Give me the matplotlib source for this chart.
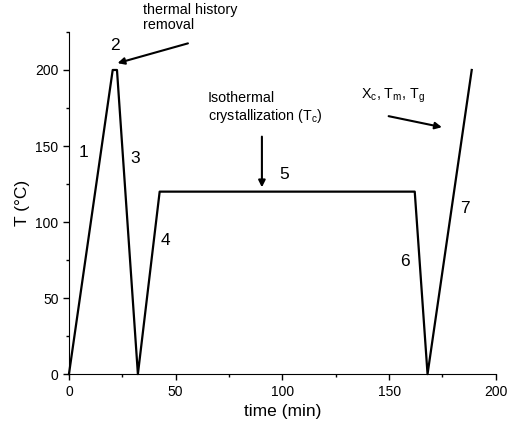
import matplotlib.pyplot as plt
from matplotlib.ticker import MultipleLocator

plt.rcParams['font.family'] = ['Liberation Sans', 'DejaVu Sans']
plt.rcParams['mathtext.fontset'] = 'custom'
plt.rcParams['mathtext.rm'] = 'Liberation Sans'

# temperature program
time = [0, 20.5, 22.5, 32.3, 42.5, 162, 168, 188.7]
temp = [0, 200, 200, 0, 120, 120, 0, 200]

step_labels = ['1', '2', '3', '4', '5', '6', '7']
step_x = [7.0, 21.5, 30.9, 45.0, 100.7, 157.4, 185.5]
step_y = [146, 216, 142, 88, 131, 74, 109]

fig = plt.figure(figsize=(5.07, 4.32), dpi=100)
ax = fig.add_axes([0.136, 0.134, 0.842, 0.792])

ax.plot(time, temp, color='k', lw=1.6, clip_on=False)

ax.set_xlim(0, 200)
ax.set_ylim(0, 225)
ax.xaxis.set_major_locator(MultipleLocator(50))
ax.xaxis.set_minor_locator(MultipleLocator(25))
ax.yaxis.set_major_locator(MultipleLocator(50))
ax.yaxis.set_minor_locator(MultipleLocator(25))
ax.spines['top'].set_visible(False)
ax.spines['right'].set_visible(False)
ax.tick_params(which='both', direction='out', width=1, labelsize=10)
ax.tick_params(which='major', length=4)
ax.tick_params(which='minor', length=2.5)
ax.set_xlabel('time (min)', fontsize=12.5, labelpad=4)
ax.set_ylabel('T (°C)', fontsize=12.5)

for s, x, y in zip(step_labels, step_x, step_y):
    ax.text(x, y, s, fontsize=12.5, ha='center', va='center')

arrow = dict(arrowstyle='-|>', color='k', lw=1.5, mutation_scale=10)

ax.annotate('', xy=(21.5, 204), xytext=(57, 218), arrowprops=arrow,
            annotation_clip=False)
ax.text(34.7, 244, 'thermal history\nremoval', fontsize=10.3, va='top',
        linespacing=1.05, clip_on=False)

ax.annotate('', xy=(90.4, 121), xytext=(90.4, 158), arrowprops=arrow)
ax.text(65, 186, 'Isothermal\ncrystallization (T$_\\mathregular{c}$)',
        fontsize=10.3, va='top', linespacing=1.1)

ax.annotate('', xy=(176, 162), xytext=(148.5, 170), arrowprops=arrow)
ax.text(137, 189, 'X$_\\mathregular{c}$, T$_\\mathregular{m}$, T$_\\mathregular{g}$',
        fontsize=10.3, va='top')

fig.savefig('out.png', dpi=100)
